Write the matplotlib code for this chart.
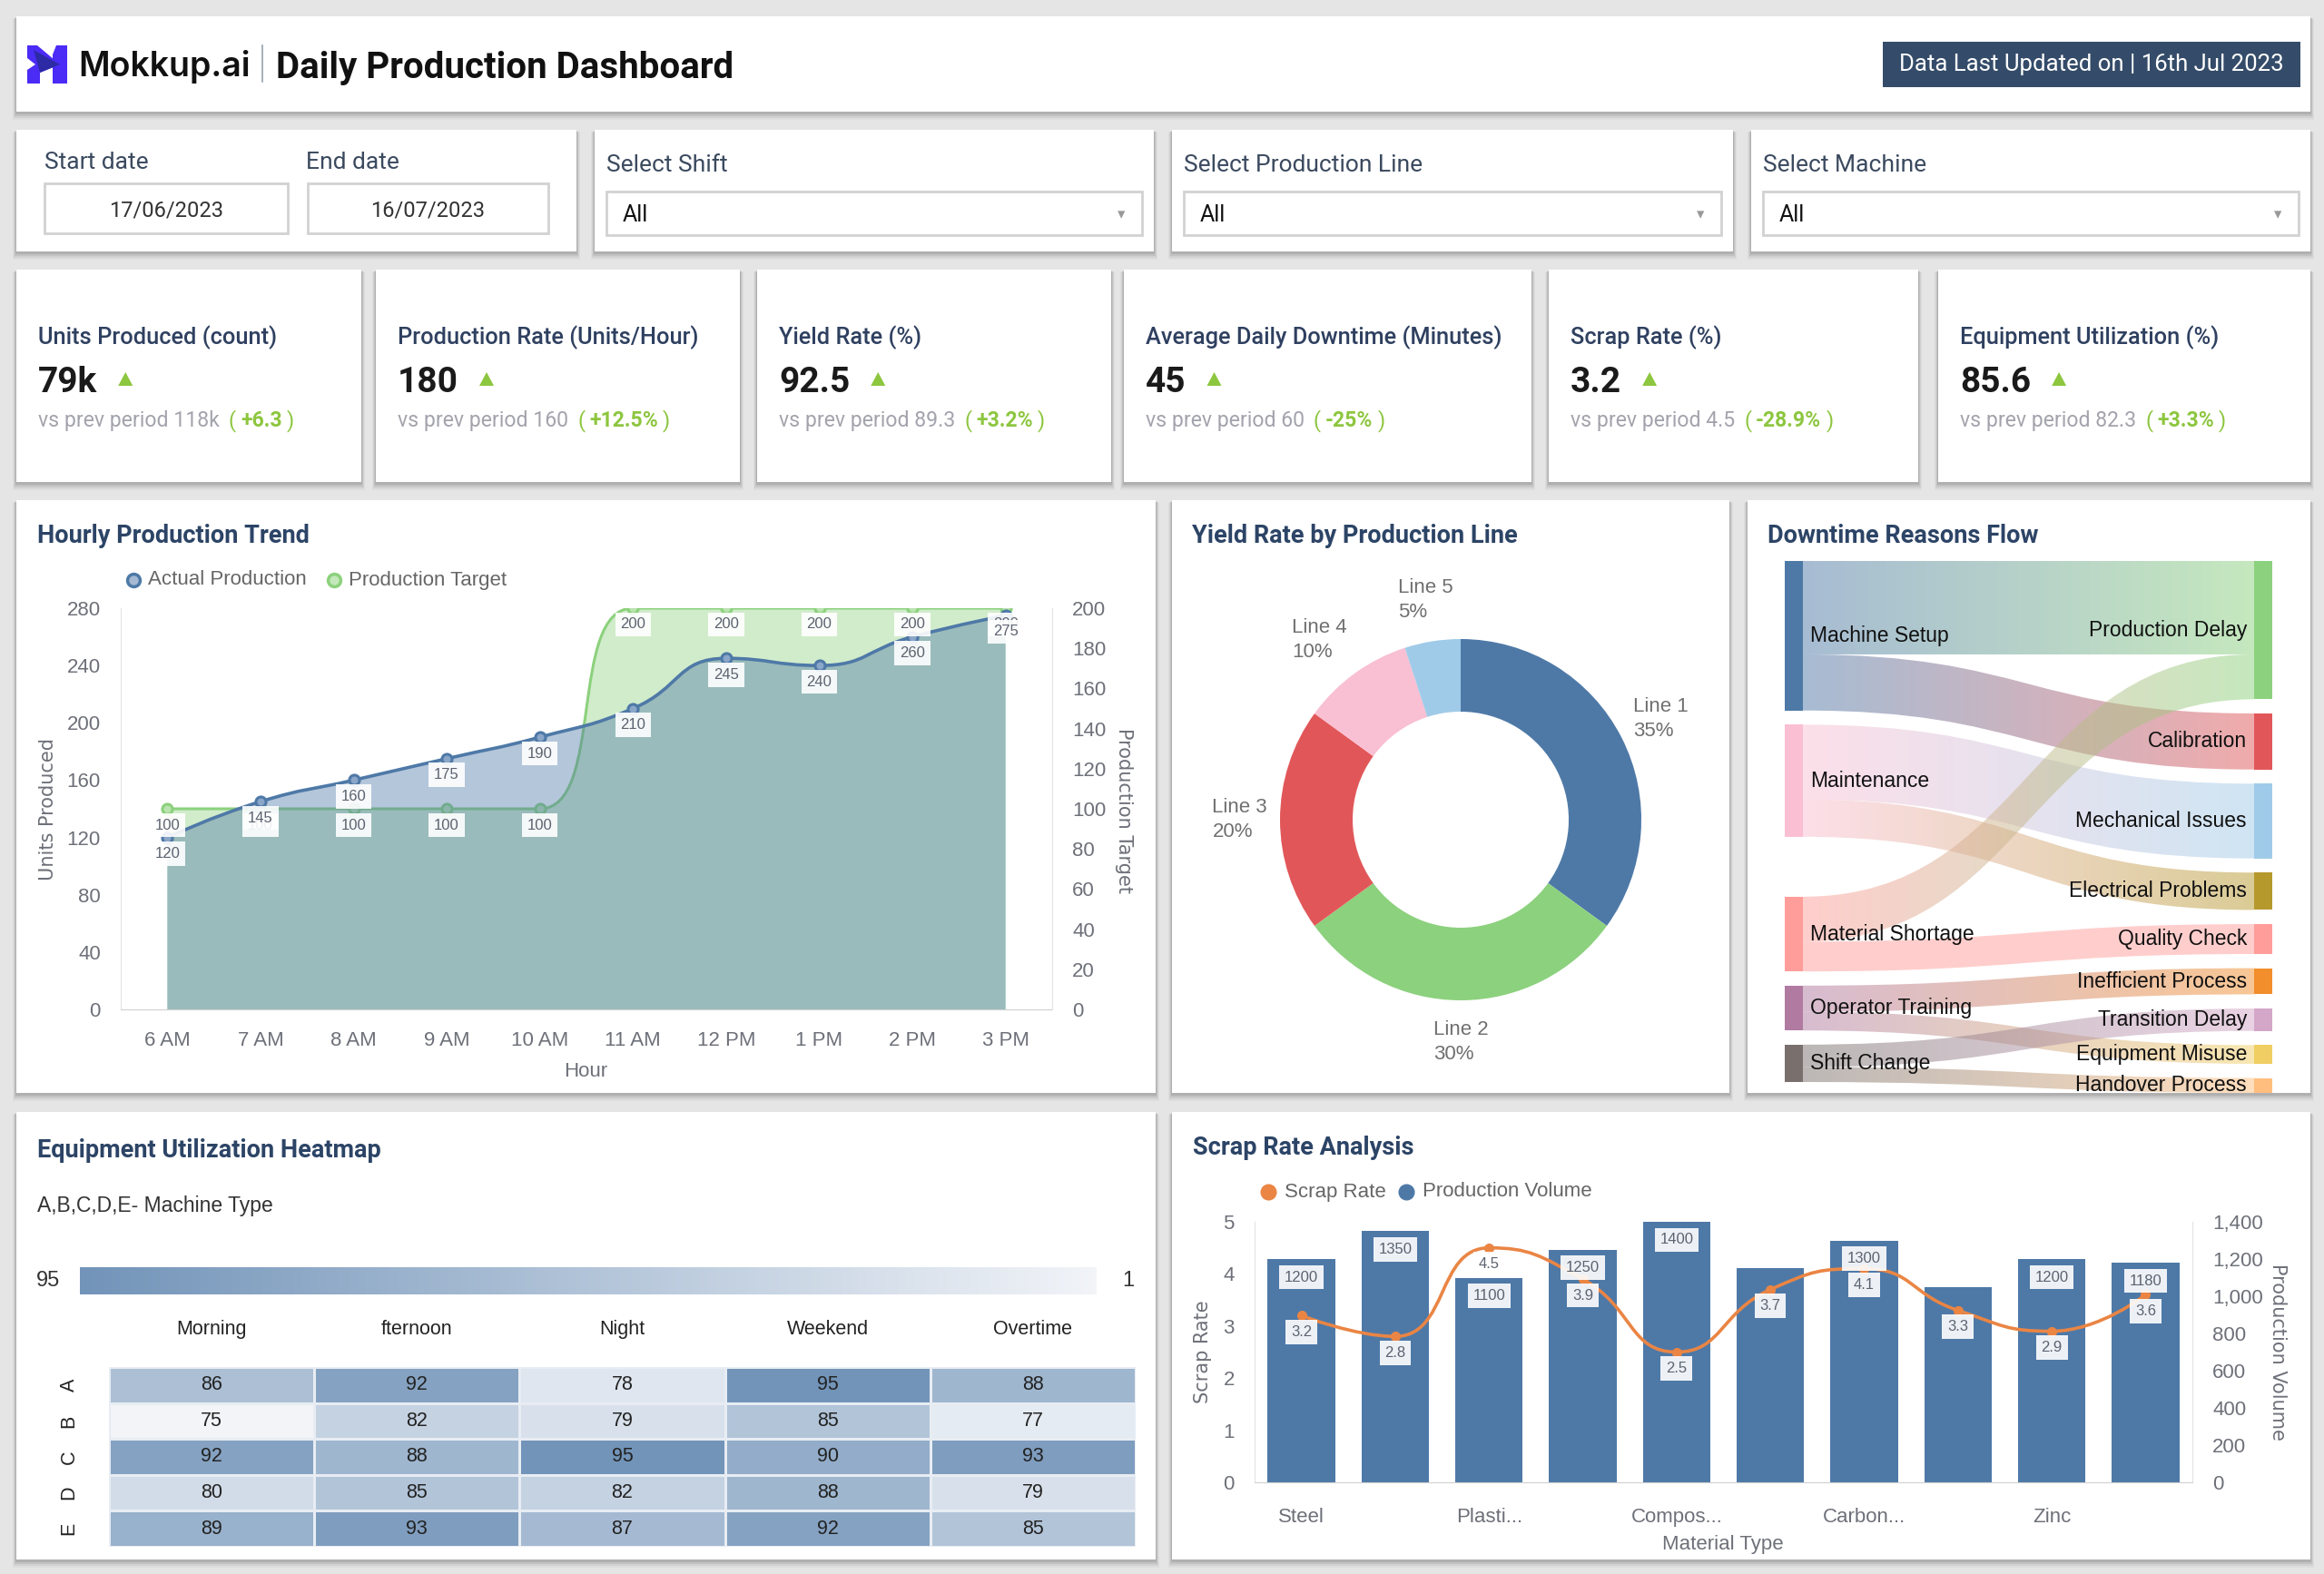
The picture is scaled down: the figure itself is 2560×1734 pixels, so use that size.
import numpy as np
import matplotlib
matplotlib.use('Agg')
import matplotlib.pyplot as plt
from matplotlib.patches import Rectangle, Polygon, PathPatch
from matplotlib.path import Path
from matplotlib.colors import LinearSegmentedColormap, to_rgb
import matplotlib.ticker as mticker

W, H = 2560, 1734
DPI = 100

# ---------------- data ----------------
start_date = '17/06/2023'
end_date = '16/07/2023'
updated_on = 'Data Last Updated on | 16th Jul 2023'
filter_labels = ['Select Shift', 'Select Production Line', 'Select Machine']
filter_values = ['All', 'All', 'All']

kpi_titles = ['Units Produced (count)', 'Production Rate (Units/Hour)', 'Yield Rate (%)',
              'Average Daily Downtime (Minutes)', 'Scrap Rate (%)', 'Equipment Utilization (%)']
kpi_values = ['79k', '180', '92.5', '45', '3.2', '85.6']
kpi_prev = ['118k', '160', '89.3', '60', '4.5', '82.3']
kpi_change = ['+6.3', '+12.5%', '+3.2%', '-25%', '-28.9%', '+3.3%']

hours = ['6 AM', '7 AM', '8 AM', '9 AM', '10 AM', '11 AM', '12 PM', '1 PM', '2 PM', '3 PM']
actual_production = [120, 145, 160, 175, 190, 210, 245, 240, 260, 275]
production_target = [100, 100, 100, 100, 100, 200, 200, 200, 200, 200]

prod_lines = ['Line 1', 'Line 2', 'Line 3', 'Line 4', 'Line 5']
line_share = [35, 30, 20, 10, 5]

downtime_sources = ['Machine Setup', 'Maintenance', 'Material Shortage', 'Operator Training', 'Shift Change']
downtime_targets = ['Production Delay', 'Calibration', 'Mechanical Issues', 'Electrical Problems',
                    'Quality Check', 'Inefficient Process', 'Transition Delay', 'Equipment Misuse',
                    'Handover Process']
flow_from = ['Machine Setup', 'Machine Setup', 'Maintenance', 'Maintenance', 'Material Shortage',
             'Material Shortage', 'Operator Training', 'Operator Training', 'Shift Change', 'Shift Change']
flow_to = ['Production Delay', 'Calibration', 'Mechanical Issues', 'Electrical Problems', 'Production Delay',
           'Quality Check', 'Inefficient Process', 'Equipment Misuse', 'Transition Delay', 'Handover Process']
flow_value = [50, 30, 40, 20, 24, 16, 14, 10, 12, 8]

machines = ['A', 'B', 'C', 'D', 'E']
shifts = ['Morning', 'fternoon', 'Night', 'Weekend', 'Overtime']
utilization = [[86, 92, 78, 95, 88],
               [75, 82, 79, 85, 77],
               [92, 88, 95, 90, 93],
               [80, 85, 82, 88, 79],
               [89, 93, 87, 92, 85]]
visual_map_range = [1, 95]

materials = ['Steel', 'Aluminum', 'Plastic', 'Copper', 'Composite', 'Glass',
             'Carbon Fiber', 'Rubber', 'Zinc', 'Titanium']
scrap_rate = [3.2, 2.8, 4.5, 3.9, 2.5, 3.7, 4.1, 3.3, 2.9, 3.6]
production_volume = [1200, 1350, 1100, 1250, 1400, 1150, 1300, 1050, 1200, 1180]

# ---------------- styles ----------------
BLUE = '#4e79a7'
GREEN = '#8cd17d'
ORANGE = '#ea8544'
TITLE_C = '#2c4466'
TICK_C = '#6e7079'
KPI_GREEN = '#8dc63f'
node_colors = {
    'Machine Setup': '#4e79a7', 'Maintenance': '#fabfd2', 'Material Shortage': '#ff9d9a',
    'Operator Training': '#b07aa1', 'Shift Change': '#79706e', 'Production Delay': '#8cd17d',
    'Calibration': '#e15759', 'Mechanical Issues': '#a0cbe8', 'Electrical Problems': '#b6992d',
    'Quality Check': '#ff9d9a', 'Inefficient Process': '#f28e2b', 'Transition Delay': '#d4a6c8',
    'Equipment Misuse': '#f1ce63', 'Handover Process': '#ffbe7d'}
donut_colors = ['#4e79a7', '#8cd17d', '#e15759', '#f9bfd2', '#a0cbe8']

plt.rcParams['font.family'] = ['Liberation Sans', 'DejaVu Sans']

fig = plt.figure(figsize=(W / DPI, H / DPI), dpi=DPI)
fig.patch.set_facecolor('#e5e5e5')
bg = fig.add_axes([0, 0, 1, 1])
bg.set_xlim(0, W)
bg.set_ylim(H, 0)
bg.axis('off')
renderer = fig.canvas.get_renderer()


def axes_at(x0, y0, x1, y1):
    return fig.add_axes([x0 / W, 1 - y1 / H, (x1 - x0) / W, (y1 - y0) / H])


def panel(x0, y0, x1, y1):
    for d, a in [(9, 0.03), (7, 0.05), (5, 0.07), (3, 0.09)]:
        bg.add_patch(Rectangle((x0 - d * 0.4, y0 + d * 0.3), x1 - x0 + d * 0.8, y1 - y0 + d * 0.7,
                               fc='black', alpha=a, lw=0, zorder=1))
    bg.add_patch(Rectangle((x0, y0), x1 - x0, y1 - y0, fc='white', lw=0, zorder=2))


def txt(x, y, s, **kw):
    kw.setdefault('zorder', 5)
    return bg.text(x, y, s, **kw)


def text_end(t):
    return t.get_window_extent(renderer).x1


# ---------------- header ----------------
panel(18, 18, 2545, 123)
bg.add_patch(Polygon([(30, 50), (41, 50), (66, 71), (44, 80), (44, 92), (30, 92), (30, 77), (39, 71), (30, 64)],
                     fc='#4b2bf6', lw=0, zorder=4))
bg.add_patch(Polygon([(37, 55), (66, 71), (44, 80)], fc='#2d2aa6', lw=0, zorder=5))
bg.add_patch(Polygon([(58, 60), (62, 50), (74, 50), (74, 92), (58, 92)], fc='#4b2bf6', lw=0, zorder=4))
txt(86, 84, 'Mokkup.ai', fontsize=27, family='Inter', fontweight='semibold', color='#111111', va='baseline')
bg.plot([289, 289], [50, 90], color='#9aa3ad', lw=1.2, zorder=5)
txt(304, 86, 'Daily Production Dashboard', fontsize=29, family='Roboto', fontweight='bold',
    color='#111111', va='baseline')
bg.add_patch(Rectangle((2074, 46), 460, 50, fc='#344c69', lw=0, zorder=4))
txt(2304, 78, updated_on, fontsize=18.5, family='Roboto', color='white', ha='center', va='baseline')

# ---------------- filters ----------------
LABEL_C = '#3b4a5f'
panel(18, 143, 635, 277)
txt(49, 186, 'Start date', fontsize=19, family='Roboto', color=LABEL_C, va='baseline')
txt(337, 186, 'End date', fontsize=19, family='Roboto', color=LABEL_C, va='baseline')
for (bx0, bx1), d in zip([(49, 317), (339, 604)], [start_date, end_date]):
    bg.add_patch(Rectangle((bx0, 202), bx1 - bx0, 55, fc='white', ec='#d2d2d2', lw=2, zorder=4))
    txt((bx0 + bx1) / 2, 238, d, fontsize=17, family='Roboto', color='#333333', ha='center', va='baseline')

for (fx0, fx1), lab, val in zip([(655, 1271), (1291, 1909), (1929, 2545)], filter_labels, filter_values):
    panel(fx0, 143, fx1, 277)
    txt(fx0 + 13, 189, lab, fontsize=19, family='Roboto', color=LABEL_C, va='baseline')
    bg.add_patch(Rectangle((fx0 + 13, 211), fx1 - fx0 - 26, 48, fc='white', ec='#d2d2d2', lw=2, zorder=4))
    txt(fx0 + 31, 244, val, fontsize=18, family='Roboto', color='#111111', va='baseline')
    txt(fx1 - 36, 236, '\u25BE', fontsize=12, color='#999999', ha='center', va='center', family='DejaVu Sans')

# ---------------- KPI cards ----------------
kpi_x = [(18, 398), (414, 815), (834, 1224), (1238, 1687), (1706, 2113), (2135, 2545)]
for (kx0, kx1), title, val, prev, chg in zip(kpi_x, kpi_titles, kpi_values, kpi_prev, kpi_change):
    panel(kx0, 297, kx1, 531)
    txt(kx0 + 24, 379, title, fontsize=18.3, family='Roboto', fontweight='medium', color='#2f4060',
        va='baseline')
    tv = txt(kx0 + 24, 432, val, fontsize=28, family='Roboto', fontweight='bold', color='#1a1a1a',
             va='baseline')
    xe = text_end(tv)
    bg.add_patch(Polygon([(xe + 23, 425), (xe + 39, 425), (xe + 31, 410)], fc=KPI_GREEN, lw=0, zorder=5))
    t1 = txt(kx0 + 24, 470, 'vs prev period ' + prev, fontsize=16.6, family='Roboto', color='#a3a3ad',
             va='baseline')
    xe = text_end(t1) + 10
    t2 = txt(xe, 470, '(', fontsize=17, family='Roboto', color=KPI_GREEN, va='baseline')
    xe = text_end(t2) + 5
    t3 = txt(xe, 470, chg, fontsize=16.6, family='Roboto', fontweight='bold', color=KPI_GREEN, va='baseline')
    xe = text_end(t3) + 5
    txt(xe, 470, ')', fontsize=17, family='Roboto', color=KPI_GREEN, va='baseline')

# ---------------- middle / bottom panels ----------------
panel(18, 551, 1273, 1204)
panel(1291, 551, 1905, 1204)
panel(1925, 551, 2545, 1204)
panel(18, 1225, 1273, 1718)
panel(1291, 1225, 2545, 1718)
PT = dict(fontsize=19.5, family='Roboto', fontweight='bold', color=TITLE_C, va='baseline')
txt(41, 598, 'Hourly Production Trend', **PT)
txt(1313, 598, 'Yield Rate by Production Line', **PT)
txt(1947, 598, 'Downtime Reasons Flow', **PT)
txt(41, 1275, 'Equipment Utilization Heatmap', **PT)
txt(1314, 1272, 'Scrap Rate Analysis', **PT)


def smooth_path_data(ax_trans, xs, ys, smooth=0.5, base=None):
    """ECharts-like smoothed line, built in display space, returned in data space."""
    pts = ax_trans.transform(np.column_stack([xs, ys]))
    n = len(pts)
    verts = [pts[0]]
    codes = [Path.MOVETO]
    cp_next = pts[0].copy()
    for i in range(1, n):
        p = pts[i]
        if i < n - 1:
            prv, nxt = pts[i - 1], pts[i + 1]
            d0 = np.hypot(*(p - prv))
            d1 = np.hypot(*(nxt - p))
            v = (nxt - prv) * smooth * d1 / (d0 + d1)
            c_out = np.clip(p + v, np.minimum(p, nxt), np.maximum(p, nxt))
            v = c_out - p
            c_in = np.clip(p - v * d0 / d1, np.minimum(prv, p), np.maximum(prv, p))
            v = p - c_in
            c_out = p + v * d1 / d0
        else:
            c_in = p.copy()
            c_out = p.copy()
        verts += [cp_next, c_in, p]
        codes += [Path.CURVE4] * 3
        cp_next = c_out
    dverts = ax_trans.inverted().transform(np.array(verts))
    if base is not None:
        dverts = np.vstack([dverts, [[xs[-1], base], [xs[0], base], [xs[0], base]]])
        codes = codes + [Path.LINETO, Path.LINETO, Path.CLOSEPOLY]
    return Path(dverts, codes)


def style_axis(ax, left=True, right=False):
    for s in ['top', 'left', 'right', 'bottom']:
        ax.spines[s].set_visible(False)
    if left:
        ax.spines['left'].set_visible(True)
        ax.spines['left'].set_color('#e3e3e3')
    if right:
        ax.spines['right'].set_visible(True)
        ax.spines['right'].set_color('#e3e3e3')
    ax.patch.set_visible(False)


# ---------------- hourly production trend ----------------
ax1 = axes_at(133, 670, 1159, 1112)
x = np.arange(len(hours))
ax1.set_xlim(-0.5, len(hours) - 0.5)
ax1.set_ylim(0, 280)
ax2 = ax1.twinx()
ax2.set_ylim(0, 200)
style_axis(ax1, left=True)
ax1.spines['bottom'].set_visible(True)
ax1.spines['bottom'].set_color('#d0d0d0')
style_axis(ax2, left=False, right=True)
ax1.set_yticks(np.arange(0, 281, 40))
ax2.set_yticks(np.arange(0, 201, 20))
ax1.set_xticks(x, hours)
ax1.tick_params(axis='y', length=0, pad=16, labelsize=16, labelcolor=TICK_C)
ax1.tick_params(axis='x', length=0, pad=17, labelsize=16, labelcolor=TICK_C)
ax2.tick_params(axis='y', length=0, pad=16, labelsize=16, labelcolor=TICK_C)

t_area = smooth_path_data(ax2.transData, x, production_target, base=0)
a_area = smooth_path_data(ax1.transData, x, actual_production, base=0)
t_line = smooth_path_data(ax2.transData, x, production_target)
a_line = smooth_path_data(ax1.transData, x, actual_production)
ax1.add_patch(PathPatch(t_area, transform=ax2.transData, fc=GREEN, alpha=0.4, lw=0, zorder=1))
ax1.add_patch(PathPatch(t_line, transform=ax2.transData, fill=False, ec=GREEN, lw=2.2, zorder=1.2))
ax1.plot(x, production_target, 'o', transform=ax2.transData, ms=8, mfc='#b9e3af', mec=GREEN, mew=2.2,
         zorder=1.3)
ax1.add_patch(PathPatch(a_area, fc=BLUE, alpha=0.42, lw=0, zorder=2))
ax1.add_patch(PathPatch(a_line, fill=False, ec=BLUE, lw=2.6, zorder=3))
ax1.plot(x, actual_production, 'o', ms=8, mfc='#8aa6c8', mec=BLUE, mew=2.2, zorder=4)
LBL = dict(textcoords='offset pixels', ha='center', va='center', fontsize=12, color='#5c6370', zorder=6,
           bbox=dict(boxstyle='square,pad=0.35', fc='white', ec='none', alpha=0.9))
for xi, v in zip(x, production_target):
    ax1.annotate(str(v), (xi, v), xycoords=ax2.transData, xytext=(0, -18), **LBL)
for xi, v in zip(x, actual_production):
    ax1.annotate(str(v), (xi, v), xytext=(0, -18), **LBL)

bg.plot(147, 639, 'o', ms=10, mfc='#a5b9d2', mec=BLUE, mew=2.5, zorder=5)
txt(163, 639, 'Actual Production', fontsize=16, color='#666666', va='center')
bg.plot(368, 639, 'o', ms=10, mfc='#c3e8ba', mec=GREEN, mew=2.5, zorder=5)
txt(384, 639, 'Production Target', fontsize=16, color='#666666', va='center')
txt(53, 891, 'Units Produced', fontsize=15, family='DejaVu Sans', color=TICK_C, rotation=90,
    ha='center', va='center')
txt(1238, 893, 'Production Target', fontsize=15, family='DejaVu Sans', color=TICK_C, rotation=270,
    ha='center', va='center')
txt(645, 1180, 'Hour', fontsize=16, color=TICK_C, ha='center', va='center')

# ---------------- yield donut ----------------
CX, CY, R, RIN = 1609, 903, 199, 119
axd = axes_at(CX - 270, CY - 270, CX + 270, CY + 270)
axd.pie(line_share, colors=donut_colors, startangle=90, counterclock=False, radius=R,
        wedgeprops=dict(width=R - RIN, edgecolor='none'))
axd.set_xlim(-270, 270)
axd.set_ylim(-270, 270)
axd.set_aspect('equal')
axd.axis('off')
start = 90.0
total = sum(line_share)
for name, share in zip(prod_lines, line_share):
    theta = 360.0 * share / total
    mid = np.radians(start - theta / 2)
    start -= theta
    c = np.cos(mid)
    if c > 0.25:
        ha, rx = 'left', 1.07
    elif c < -0.25:
        ha, rx = 'right', 1.07
    else:
        ha, rx = 'center', 1.25
    axd.text(R * rx * c, R * 1.23 * np.sin(mid), f'{name}\n{share}%', ha=ha, va='center',
             fontsize=16, color='#707070', linespacing=1.35, multialignment='left')

# ---------------- downtime sankey ----------------
SX0, SX1 = 1966, 1986
TX0, TX1 = 2483, 2503
TOP, BOT, GAP = 618, 1204, 15.6
src_val = {s: sum(v for f, v in zip(flow_from, flow_value) if f == s) for s in downtime_sources}
tgt_val = {t: sum(v for f, v in zip(flow_to, flow_value) if f == t) for t in downtime_targets}
k = (BOT - TOP - GAP * (len(downtime_targets) - 1)) / sum(tgt_val.values())
tgt_y = {}
yc = TOP
for t in downtime_targets:
    tgt_y[t] = yc
    yc += tgt_val[t] * k + GAP
# sources: first two stacked from top, the rest stacked up from the bottom
src_y = {}
yc = TOP
for s in downtime_sources[:2]:
    src_y[s] = yc
    yc += src_val[s] * k + GAP
yc = BOT - 12
for s in reversed(downtime_sources[2:]):
    yc -= src_val[s] * k
    src_y[s] = yc
    yc -= GAP

src_off = dict(src_y)
tgt_off = dict(tgt_y)
order = sorted(range(len(flow_value)),
               key=lambda i: (downtime_sources.index(flow_from[i]), downtime_targets.index(flow_to[i])))
link_geo = {}
for i in order:
    h = flow_value[i] * k
    link_geo[i] = [src_off[flow_from[i]], src_off[flow_from[i]] + h]
    src_off[flow_from[i]] += h
order_t = sorted(range(len(flow_value)),
                 key=lambda i: (downtime_targets.index(flow_to[i]), downtime_sources.index(flow_from[i])))
for i in order_t:
    h = flow_value[i] * k
    link_geo[i] += [tgt_off[flow_to[i]], tgt_off[flow_to[i]] + h]
    tgt_off[flow_to[i]] += h

xm = (SX1 + TX0) / 2
for i in range(len(flow_value)):
    s0, s1, t0, t1 = link_geo[i]
    verts = [(SX1, s0), (xm, s0), (xm, t0), (TX0, t0), (TX0, t1), (xm, t1), (xm, s1), (SX1, s1), (SX1, s0)]
    codes = [Path.MOVETO, Path.CURVE4, Path.CURVE4, Path.CURVE4, Path.LINETO,
             Path.CURVE4, Path.CURVE4, Path.CURVE4, Path.CLOSEPOLY]
    patch = PathPatch(Path(verts, codes), transform=bg.transData, fc='none', lw=0)
    c0 = np.array(to_rgb(node_colors[flow_from[i]]))
    c1 = np.array(to_rgb(node_colors[flow_to[i]]))
    tt = np.linspace(0, 1, 256)[:, None]
    grad = np.concatenate([c0 * (1 - tt) + c1 * tt, np.full((256, 1), 0.5)], axis=1)[None, :, :]
    im = bg.imshow(grad, extent=(SX1, TX0, max(s1, t1) + 2, min(s0, t0) - 2), aspect='auto',
                   interpolation='bilinear', zorder=3)
    im.set_clip_path(patch)

for s in downtime_sources:
    h = src_val[s] * k
    bg.add_patch(Rectangle((SX0, src_y[s]), SX1 - SX0, h, fc=node_colors[s], lw=0, zorder=4))
    txt(SX1 + 8, src_y[s] + h / 2, s, fontsize=16.5, color='#111111', va='center')
for t in downtime_targets:
    h = tgt_val[t] * k
    bg.add_patch(Rectangle((TX0, tgt_y[t]), TX1 - TX0, h, fc=node_colors[t], lw=0, zorder=4))
    txt(TX0 - 8, tgt_y[t] + h / 2, t, fontsize=16.5, color='#111111', va='center', ha='right')

# ---------------- utilization heatmap ----------------
txt(41, 1335, 'A,B,C,D,E- Machine Type', fontsize=16.5, color='#333333', va='baseline')
vals = np.array(utilization)
cmap = LinearSegmentedColormap.from_list('util', ['#f2f4f8', '#7294b9'])
vmin, vmax = vals.min(), vals.max()
axvm = axes_at(88, 1396, 1208, 1426)
axvm.imshow(np.linspace(vmax, vmin, 256)[None, :], cmap=cmap, vmin=vmin, vmax=vmax, aspect='auto')
axvm.axis('off')
txt(66, 1411, str(visual_map_range[1]), fontsize=17, color='#333333', ha='right', va='center')
txt(1236, 1411, str(visual_map_range[0]), fontsize=17, color='#333333', ha='left', va='center')

axh = axes_at(120, 1506, 1251, 1704)
axh.pcolormesh(vals, cmap=cmap, vmin=vmin, vmax=vmax, edgecolors='#e8edf3', linewidth=1)
axh.set_xlim(0, len(shifts))
axh.set_ylim(len(machines), 0)
for r in range(len(machines)):
    for c in range(len(shifts)):
        axh.text(c + 0.5, r + 0.5, str(utilization[r][c]), ha='center', va='center', fontsize=15.5,
                 color='#222222')
axh.xaxis.tick_top()
axh.set_xticks(np.arange(len(shifts)) + 0.5, shifts)
axh.set_yticks(np.arange(len(machines)) + 0.5, machines)
axh.tick_params(axis='x', length=0, pad=22, labelsize=15.5, labelcolor='#222222')
axh.tick_params(axis='y', length=0, pad=24, labelsize=15.5, labelcolor='#222222', labelrotation=90)
for lab in axh.get_yticklabels():
    lab.set_va('center')
for s in axh.spines.values():
    s.set_visible(False)

# ---------------- scrap rate analysis ----------------
axs = axes_at(1382, 1346, 2415, 1633)
xm_ = np.arange(len(materials))
axs.set_xlim(-0.5, len(materials) - 0.5)
axs.set_ylim(0, 5)
axv = axs.twinx()
axv.set_ylim(0, 1400)
axs.set_zorder(axv.get_zorder() + 1)
style_axis(axs, left=True)
axs.spines['bottom'].set_visible(True)
axs.spines['bottom'].set_color('#d0d0d0')
style_axis(axv, left=False, right=True)
axv.patch.set_visible(True)
axv.patch.set_facecolor('white')
axv.bar(xm_, production_volume, width=0.72, color=BLUE, zorder=2)
axs.set_yticks(np.arange(0, 6, 1))
axv.set_yticks(np.arange(0, 1401, 200))
axv.yaxis.set_major_formatter(mticker.FuncFormatter(lambda v, p: f'{int(v):,}'))
short = [m if len(m) <= 6 else m[:6] + '...' for m in materials]
axs.set_xticks(xm_, [s if i % 2 == 0 else '' for i, s in enumerate(short)])
axs.tick_params(axis='y', length=0, pad=16, labelsize=16, labelcolor=TICK_C)
axs.tick_params(axis='x', length=0, pad=20, labelsize=16, labelcolor=TICK_C)
axv.tick_params(axis='y', length=0, pad=16, labelsize=16, labelcolor=TICK_C)

s_line = smooth_path_data(axs.transData, xm_, scrap_rate)
axs.add_patch(PathPatch(s_line, fill=False, ec=ORANGE, lw=2.6, zorder=3))
axs.plot(xm_, scrap_rate, 'o', ms=7, mfc=ORANGE, mec=ORANGE, zorder=4)
line_labels = [axs.annotate(f'{v}', (xi, v), xytext=(0, -18), **LBL) for xi, v in zip(xm_, scrap_rate)]
bar_labels = [axs.annotate(str(v), (xi, v), xycoords=axv.transData, xytext=(0, -20), **LBL)
              for xi, v in zip(xm_, production_volume)]
fig.canvas.draw()
renderer = fig.canvas.get_renderer()
line_boxes = [t.get_bbox_patch().get_window_extent(renderer) for t in line_labels]
for t in bar_labels:
    b = t.get_bbox_patch().get_window_extent(renderer)
    if any(b.overlaps(lb) for lb in line_boxes):
        t.set_visible(False)

bg.plot(1397, 1313, 'o', ms=12, color=ORANGE, zorder=5)
txt(1415, 1313, 'Scrap Rate', fontsize=16, color='#666666', va='center')
bg.plot(1549, 1313, 'o', ms=12, color=BLUE, zorder=5)
txt(1567, 1313, 'Production Volume', fontsize=16, color='#666666', va='center')
txt(1325, 1489, 'Scrap Rate', fontsize=15, family='DejaVu Sans', color=TICK_C, rotation=90,
    ha='center', va='center')
txt(2509, 1489, 'Production Volume', fontsize=15, family='DejaVu Sans', color=TICK_C, rotation=270,
    ha='center', va='center')
txt(1898, 1702, 'Material Type', fontsize=16, color=TICK_C, ha='center', va='center')

bg.set_xlim(0, W)
bg.set_ylim(H, 0)
fig.savefig('out.png', dpi=DPI, facecolor=fig.get_facecolor())
